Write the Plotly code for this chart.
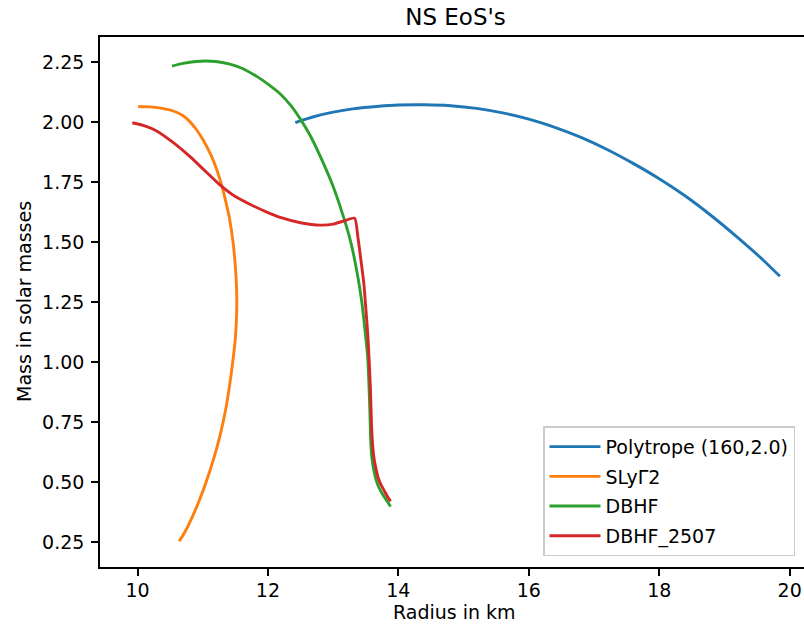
import plotly.graph_objects as go

# ---- data ----
poly_r = [12.42, 12.7, 13.0, 13.3, 13.7, 14.0, 14.4, 14.8, 15.2, 15.6, 16.0, 16.4, 16.8, 17.2, 17.6, 18.0, 18.4, 18.8, 19.2, 19.6, 19.85]
poly_m = [1.998, 2.022, 2.041, 2.055, 2.066, 2.071, 2.072, 2.068, 2.057, 2.038, 2.012, 1.978, 1.936, 1.886, 1.828, 1.764, 1.692, 1.610, 1.520, 1.424, 1.358]

sly_r = [10.01, 10.20, 10.40, 10.56, 10.70, 10.79, 10.90, 11.02, 11.13, 11.205, 11.27, 11.325, 11.37, 11.41, 11.465, 11.50, 11.52, 11.52, 11.50, 11.46, 11.41, 11.35, 11.27, 11.17, 11.05, 10.91, 10.74, 10.64]
sly_m = [2.065, 2.063, 2.056, 2.045, 2.026, 2.005, 1.970, 1.919, 1.860, 1.810, 1.756, 1.702, 1.650, 1.600, 1.500, 1.400, 1.300, 1.200, 1.100, 1.000, 0.900, 0.800, 0.700, 0.600, 0.500, 0.400, 0.300, 0.255]

dbhf_r = [10.53, 10.70, 10.90, 11.04, 11.20, 11.40, 11.60, 11.84, 12.00, 12.19, 12.35, 12.50, 12.65, 12.81, 13.00, 13.16, 13.27, 13.37, 13.44, 13.49, 13.53, 13.55, 13.563, 13.573, 13.58, 13.595, 13.625, 13.66, 13.70, 13.76, 13.82, 13.88]
dbhf_m = [2.233, 2.244, 2.252, 2.254, 2.252, 2.242, 2.224, 2.188, 2.158, 2.117, 2.069, 2.011, 1.943, 1.853, 1.732, 1.604, 1.500, 1.370, 1.250, 1.130, 1.020, 0.900, 0.800, 0.700, 0.650, 0.600, 0.550, 0.510, 0.480, 0.450, 0.425, 0.400]

d2507_r = [9.92, 10.10, 10.30, 10.55, 10.81, 11.05, 11.25, 11.50, 11.73, 12.00, 12.19, 12.50, 12.81, 13.00, 13.16, 13.33, 13.38, 13.42, 13.47, 13.50, 13.53, 13.55, 13.57, 13.58, 13.587, 13.595, 13.607, 13.627, 13.655, 13.69, 13.735, 13.785, 13.835, 13.88]
d2507_m = [1.997, 1.985, 1.962, 1.914, 1.855, 1.793, 1.742, 1.690, 1.657, 1.623, 1.603, 1.581, 1.571, 1.575, 1.588, 1.600, 1.520, 1.438, 1.330, 1.229, 1.120, 1.021, 0.900, 0.813, 0.750, 0.700, 0.650, 0.600, 0.560, 0.520, 0.490, 0.465, 0.440, 0.421]

names = ["Polytrope (160,2.0)", "SLyΓ2", "DBHF", "DBHF_2507"]
colors = ["#1f77b4", "#ff7f0e", "#2ca02c", "#d62728"]

x_ticks = [10, 12, 14, 16, 18, 20]
y_ticks = [0.25, 0.50, 0.75, 1.00, 1.25, 1.50, 1.75, 2.00, 2.25]

FONT = "DejaVu Sans"

fig = go.Figure()
series = [(poly_r, poly_m), (sly_r, sly_m), (dbhf_r, dbhf_m), (d2507_r, d2507_m)]
for i, ((xs, ys), nm, col) in enumerate(zip(series, names, colors)):
    fig.add_trace(go.Scatter(
        x=xs, y=ys, mode="lines", name=nm, legendgroup=f"g{i}",
        line=dict(color=col, width=2.9, shape="spline", smoothing=0.5),
    ))

axis_common = dict(
    showgrid=False, zeroline=False, showline=True, linecolor="black", linewidth=1.6,
    ticks="outside", ticklen=7, tickwidth=1.6, tickcolor="black", automargin=False,
    tickfont=dict(family=FONT, size=19, color="black"),
)

fig.update_layout(
    width=804, height=629,
    margin=dict(l=100, r=0, t=37, b=62),
    paper_bgcolor="white", plot_bgcolor="white",
    font=dict(family=FONT, color="black"),
    title=dict(text="NS EoS's", x=0.505, xref="paper", xanchor="center",
               y=1 - 25 / 629, yref="container", yanchor="bottom",
               font=dict(family=FONT, size=23, color="black")),
    xaxis=dict(range=[9.425, 20.22], tickvals=x_ticks, mirror=True,
               ticklabelstandoff=-2, **axis_common),
    yaxis=dict(range=[0.148, 2.354], tickvals=y_ticks, tickformat=".2f", mirror=False,
               ticklabelstandoff=3, **axis_common),
    legend=dict(x=(795 - 100) / 704, y=(566.7 - 556) / 530, xanchor="right", yanchor="bottom",
                bgcolor="rgba(255,255,255,0.8)", bordercolor="#cccccc", borderwidth=1.5,
                font=dict(family=FONT, size=19, color="black"),
                itemwidth=51, tracegroupgap=2),
    showlegend=True,
    annotations=[
        dict(text="Radius in km", xref="paper", yref="paper", x=(454 - 100) / 704, y=0,
             xanchor="center", yanchor="middle", yshift=-(612 - 566.7), showarrow=False,
             font=dict(family=FONT, size=19, color="black")),
        dict(text="Mass in solar masses", xref="paper", yref="paper", x=0, y=0.5,
             xanchor="center", yanchor="middle", xshift=-(100 - 24), textangle=-90,
             showarrow=False, font=dict(family=FONT, size=19, color="black")),
    ],
)

fig.write_html("out.html", config={"displayModeBar": False},
               post_script="document.body.style.margin='0px';")
